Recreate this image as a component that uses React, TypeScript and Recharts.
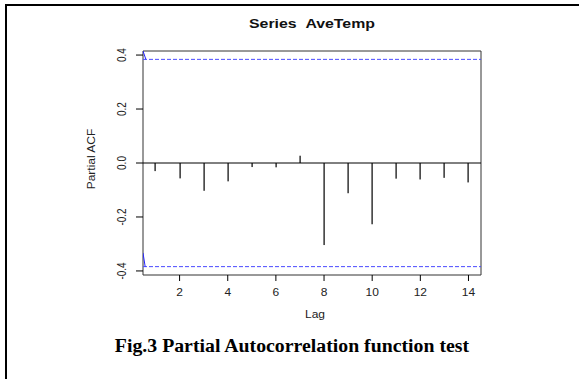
import React from "react";
import { ComposedChart, XAxis, YAxis, Bar, Line, ReferenceLine, ReferenceArea } from "recharts";

const lags = [1, 2, 3, 4, 5, 6, 7, 8, 9, 10, 11, 12, 13, 14];
const pacfValues = [-0.030, -0.057, -0.103, -0.068, -0.015, -0.016, 0.027, -0.304, -0.112, -0.227, -0.058, -0.061, -0.055, -0.072];
const ciBound = 0.384;
const xTicks = [2, 4, 6, 8, 10, 12, 14];
const yTicks = [-0.4, -0.2, 0, 0.2, 0.4];
const yTickLabels = ["-0.4", "-0.2", "0.0", "0.2", "0.4"];
const xDomain = [0.48, 14.52];
const yDomain = [-0.415, 0.415];
const topArtifact = [{ lag: 0.48, v: 0.415 }, { lag: 0.6, v: 0.384 }];
const bottomArtifact = [{ lag: 0.48, v: -0.333 }, { lag: 0.57, v: -0.384 }];

const data = lags.map((lag, i) => ({ lag, pacf: pacfValues[i] }));

const FONT = '"Liberation Sans", Arial, sans-serif';

const XTick = (props: any) => {
  const { x, y, payload } = props;
  return (
    <text transform={`translate(${x},${y + 13}) scale(1.2,1)`} textAnchor="middle" fontSize={10} fontFamily={FONT} fill="#222">
      {String(payload.value)}
    </text>
  );
};

const YTick = (props: any) => {
  const { y, payload } = props;
  const idx = yTicks.findIndex((t) => Math.abs(t - payload.value) < 1e-9);
  const label = idx >= 0 ? yTickLabels[idx] : String(payload.value);
  return (
    <text transform={`translate(126,${y}) scale(1.2,1) rotate(-90)`} textAnchor="middle" fontSize={10} fontFamily={FONT} fill="#222">
      {label}
    </text>
  );
};

const Spike = (props: any) => {
  const { x, y, width, height } = props;
  if (x == null || y == null || height == null) return null;
  const cx = Math.round(x + (width || 0) / 2);
  const top = Math.min(y, y + height);
  const h = Math.abs(height);
  return <rect x={cx - 0.5} y={top} width={1.2} height={h} fill="#000" />;
};

export default function App() {
  return (
    <div style={{ position: "absolute", left: 0, top: 0, width: 579, height: 379, background: "#fff", overflow: "hidden", fontFamily: FONT }}>
      <div style={{ position: "absolute", left: 5, top: 4, width: 574, height: 2, background: "#000" }} />
      <div style={{ position: "absolute", left: 5, top: 4, width: 2, height: 375, background: "#000" }} />
      <ComposedChart width={579} height={379} data={data} margin={{ top: 51, right: 98, bottom: 74, left: 83 }}>
        <XAxis
          dataKey="lag"
          type="number"
          domain={xDomain}
          ticks={xTicks}
          allowDataOverflow
          axisLine={false}
          tickLine={{ stroke: "#000" }}
          tickSize={6}
          height={30}
          tick={<XTick />}
        />
        <YAxis
          type="number"
          domain={yDomain}
          ticks={yTicks}
          allowDataOverflow
          axisLine={false}
          tickLine={{ stroke: "#000" }}
          tickSize={7}
          width={60}
          tick={<YTick />}
        />
        <ReferenceArea x1={xDomain[0]} x2={xDomain[1]} y1={yDomain[0]} y2={yDomain[1]} fill="none" stroke="#333" strokeWidth={1} ifOverflow="visible" />
        <ReferenceLine y={0} stroke="#000" strokeWidth={1} />
        <ReferenceLine y={ciBound} stroke="#4a4aff" strokeDasharray="4 2" strokeWidth={1} />
        <ReferenceLine y={-ciBound} stroke="#4a4aff" strokeDasharray="4 2" strokeWidth={1} />
        <Bar dataKey="pacf" barSize={1} fill="#000" shape={<Spike />} isAnimationActive={false} />
        <Line data={topArtifact} dataKey="v" stroke="#2222ff" strokeWidth={1} dot={false} isAnimationActive={false} />
        <Line data={bottomArtifact} dataKey="v" stroke="#2222ff" strokeWidth={1} dot={false} isAnimationActive={false} />
      </ComposedChart>
      <div style={{ position: "absolute", left: 0, width: 624, top: 17, textAlign: "center", fontSize: 12, fontWeight: "bold", lineHeight: "14px", transform: "scaleX(1.32)", color: "#111" }}>
        Series&nbsp;&nbsp;AveTemp
      </div>
      <div style={{ position: "absolute", left: 0, width: 630, top: 309, textAlign: "center", fontSize: 10, lineHeight: "12px", transform: "scaleX(1.2)", color: "#222" }}>
        Lag
      </div>
      <div style={{ position: "absolute", left: 92, top: 159, width: 0, height: 0 }}>
        <div style={{ position: "absolute", left: -40, top: -6, width: 80, textAlign: "center", fontSize: 10, lineHeight: "12px", whiteSpace: "nowrap", transform: "scale(1,1.2) rotate(-90deg)", color: "#222" }}>
          Partial ACF
        </div>
      </div>
      <div style={{ position: "absolute", left: 0, width: 584, top: 335, textAlign: "center", fontSize: 18, fontWeight: "bold", lineHeight: "22px", fontFamily: '"Liberation Serif", "Times New Roman", serif', color: "#000", transform: "scaleX(1.1)" }}>
        Fig.3 Partial Autocorrelation function test
      </div>
    </div>
  );
}
